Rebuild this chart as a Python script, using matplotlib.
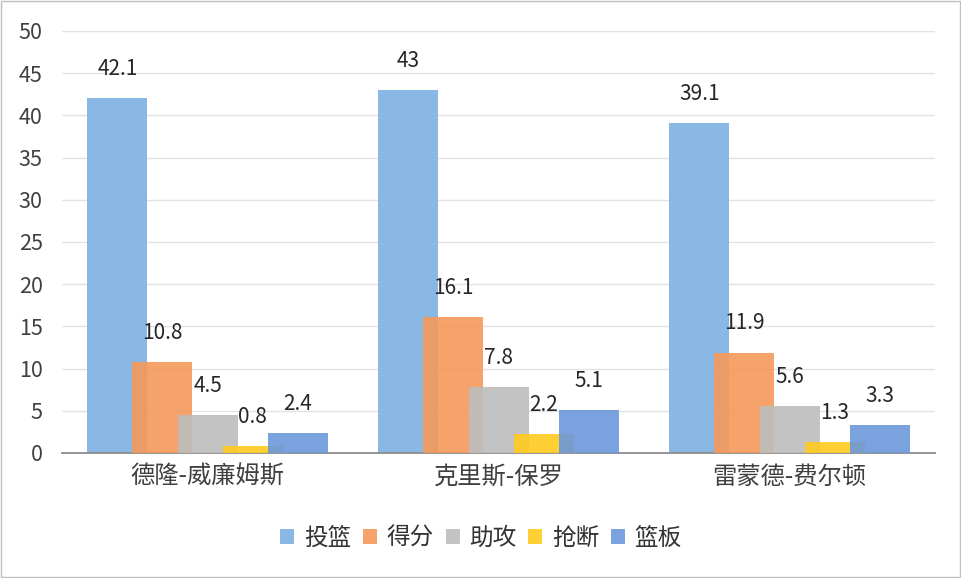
import numpy as np
import matplotlib.pyplot as plt
from matplotlib.patches import Rectangle

plt.rcParams['font.family'] = ['Noto Sans CJK SC', 'DejaVu Sans']

# data
players = ['德隆-威廉姆斯', '克里斯-保罗', '雷蒙德-费尔顿']
series = ['投篮', '得分', '助攻', '抢断', '篮板']
shooting = [42.1, 43, 39.1]
points = [10.8, 16.1, 11.9]
assists = [4.5, 7.8, 5.6]
steals = [0.8, 2.2, 1.3]
rebounds = [2.4, 5.1, 3.3]
colors = ['#7DB1E3', '#F4995A', '#BDBDBD', '#FFCB1F', '#6A98DB']

values = [shooting, points, assists, steals, rebounds]

fig = plt.figure(figsize=(9.62, 5.78), dpi=100)
ax = fig.add_axes([0.0645, 0.2163, 0.9075, 0.7301])

x = np.arange(len(players))
step = 0.155
width = 0.206
for i, (name, vals, c) in enumerate(zip(series, values, colors)):
    pos = x + (i - 2) * step
    bars = ax.bar(pos, vals, width, color=c, alpha=0.9, label=name, zorder=2 + i)
    for b, v in zip(bars, vals):
        ax.annotate(f'{v:g}', (b.get_x() + b.get_width() / 2, v),
                    xytext=(0, 13), textcoords='offset points',
                    ha='center', va='bottom', fontsize=15, color='#262626')

ax.set_xlim(-0.5, 2.5)
ax.set_ylim(0, 50)
ax.set_yticks(range(0, 51, 5))
ax.yaxis.grid(True, color='#E3E3E3', linewidth=1)
ax.set_axisbelow(True)
for s in ['top', 'right', 'left']:
    ax.spines[s].set_visible(False)
ax.spines['bottom'].set_color('#8C8C8C')
ax.spines['bottom'].set_linewidth(1.3)
ax.tick_params(axis='both', length=0, colors='#404040')
ax.tick_params(axis='y', labelsize=15.5, pad=14)
ax.set_xticks(x)
ax.set_xticklabels(players, fontsize=17.5)
ax.tick_params(axis='x', pad=8)

handles, labels = ax.get_legend_handles_labels()
fig.legend(handles, labels, loc='center', bbox_to_anchor=(0.5, 0.069), ncol=5,
           frameon=False, fontsize=17, handlelength=0.6, handleheight=0.6,
           handletextpad=0.4, columnspacing=0.5, labelcolor='#333333')

fig.patches.append(Rectangle((0.001, 0.001), 0.997, 0.997, transform=fig.transFigure,
                             fill=False, edgecolor='#BFBFBF', linewidth=1))

fig.savefig('out.png', dpi=100, facecolor='white')
